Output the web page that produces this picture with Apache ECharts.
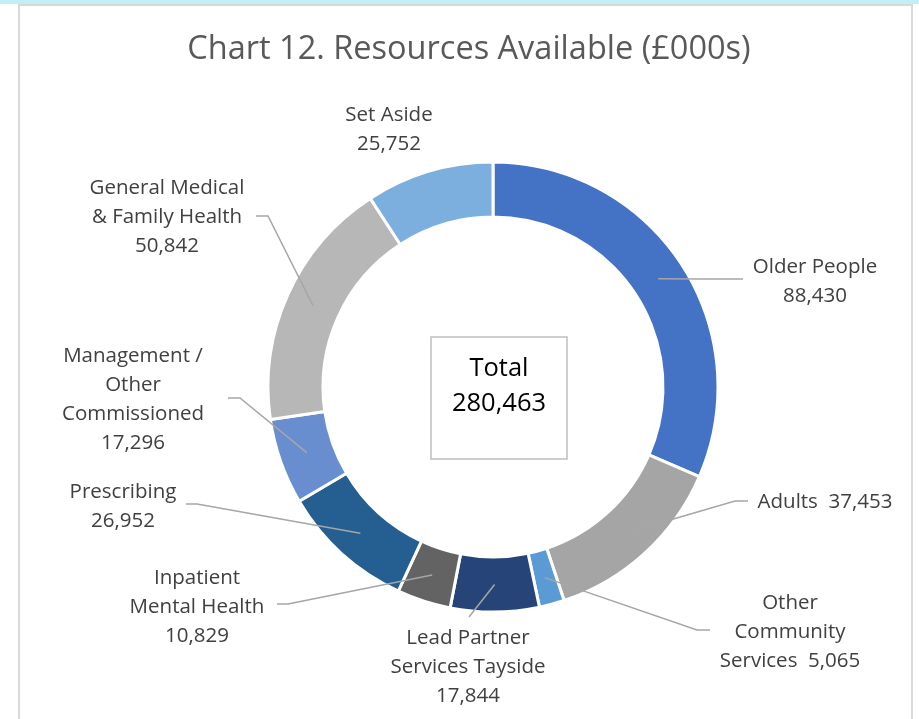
<!DOCTYPE html>
<html>
<head>
<meta charset="utf-8">
<script src="https://cdn.jsdelivr.net/npm/echarts@6/dist/echarts.min.js"></script>
<style>
  html, body { margin: 0; padding: 0; background: #fff; }
  #chart { width: 919px; height: 719px; }
</style>
</head>
<body>
<div id="chart"></div>
<script>
// Chart 12 - resources available, doughnut with total in the middle
const categories = [
  'Older People', 'Adults', 'Other Community Services', 'Lead Partner Services Tayside',
  'Inpatient Mental Health', 'Prescribing', 'Management / Other Commissioned',
  'General Medical & Family Health', 'Set Aside'
]
const values = [88430, 37453, 5065, 17844, 10829, 26952, 17296, 50842, 25752]
// label text as it is wrapped in the original
const labelNames = [
  'Older People', 'Adults', 'Other\nCommunity\nServices', 'Lead Partner\nServices Tayside',
  'Inpatient\nMental Health', 'Prescribing', 'Management /\nOther\nCommissioned',
  'General Medical\n& Family Health', 'Set Aside'
]
const colors = ['#4472C4', '#A5A5A5', '#5B9BD5', '#264478', '#636363', '#255E91', '#698ED0', '#B7B7B7', '#7CAFDD']

// where each label sits and where its leader line bends / ends
const labelPos = [[815, 282], [825, 502], [790, 632], [468, 667], [197, 607], [123, 507], [133, 400], [167, 217], [389, 130]]
const leaderEnd = [[[700, 279], [743, 279]], [[735, 501], [748, 501]], [[697, 630], [710, 630]], [[469, 617], [469, 617]],
  [[288, 604], [277, 604]], [[197, 504], [186, 504]], [[240, 398], [228, 398]], [[268, 216], [256, 216]], null]

const cx = 493, cy = 387, rIn = 170, rOut = 225
const fmt = v => v.toLocaleString('en-GB')
const total = values.reduce((a, b) => a + b, 0)

// mid angle of each slice, for the start of the leader lines
const midAngles = []
let acc = 0
values.forEach(v => { midAngles.push((acc + v / 2) / total * Math.PI * 2); acc += v })

const chart = echarts.init(document.getElementById('chart'))
const FONT = 'Open Sans'

const pieBase = {
  type: 'pie',
  center: [cx, cy],
  radius: [rIn, rOut],
  startAngle: 90,
  clockwise: true,
  avoidLabelOverlap: false
}

chart.setOption({
  animation: false,
  title: {
    text: 'Chart 12. Resources Available (£000s)',
    left: 464,
    top: 28,
    textAlign: 'center',
    textStyle: { fontFamily: FONT, fontSize: 32.5, fontWeight: 'normal', color: '#595959' }
  },
  graphic: [
    { type: 'rect', shape: { x: 0, y: 0, width: 919, height: 4 }, style: { fill: '#C2EEF5' } },
    { type: 'line', shape: { x1: 18, y1: 5, x2: 913, y2: 5 }, style: { stroke: '#D9D9D9', lineWidth: 2 } },
    { type: 'line', shape: { x1: 19, y1: 5, x2: 19, y2: 719 }, style: { stroke: '#D9D9D9', lineWidth: 2 } },
    { type: 'line', shape: { x1: 912, y1: 5, x2: 912, y2: 719 }, style: { stroke: '#D9D9D9', lineWidth: 2 } },
    { type: 'rect', shape: { x: 431, y: 337, width: 136, height: 122 }, style: { fill: '#fff', stroke: '#BFBFBF', lineWidth: 1.5 } },
    {
      type: 'text', x: 499, y: 386,
      style: { text: 'Total\n' + fmt(total), align: 'center', verticalAlign: 'middle', fontFamily: FONT, fontSize: 25.5, lineHeight: 35, fill: '#000' }
    }
  ],
  series: [
    // the rings themselves
    Object.assign({}, pieBase, {
      name: 'Resources',
      z: 2,
      itemStyle: { borderColor: '#fff', borderWidth: 3 },
      label: { show: false },
      labelLine: { show: false },
      data: categories.map((name, i) => ({ name: name, value: values[i], itemStyle: { color: colors[i] } }))
    }),
    // same ring, see-through, only to carry labels and leader lines above the slices
    Object.assign({}, pieBase, {
      name: 'Labels',
      z: 3,
      silent: true,
      itemStyle: { color: 'rgba(0,0,0,0)', borderWidth: 0 },
      label: {
        show: true,
        position: 'outside',
        formatter: p => labelNames[p.dataIndex] + (p.dataIndex === 1 || p.dataIndex === 2 ? '  ' : '\n') + fmt(p.value),
        fontFamily: FONT,
        fontSize: 20.5,
        lineHeight: 29,
        color: '#404040',
        align: 'center'
      },
      labelLine: { show: true, lineStyle: { color: '#A6A6A6', width: 1.5 } },
      labelLayout: p => {
        const i = p.dataIndex
        const a = midAngles[i], r = (rIn + rOut) / 2
        const start = [cx + r * Math.sin(a), cy - r * Math.cos(a)]
        const out = { x: labelPos[i][0], y: labelPos[i][1], align: 'center', verticalAlign: 'middle' }
        if (leaderEnd[i]) out.labelLinePoints = [start, leaderEnd[i][0], leaderEnd[i][1]]
        return out
      },
      data: categories.map((name, i) => ({
        name: name,
        value: values[i],
        labelLine: { show: !!leaderEnd[i] }
      }))
    })
  ]
})
</script>
</body>
</html>
